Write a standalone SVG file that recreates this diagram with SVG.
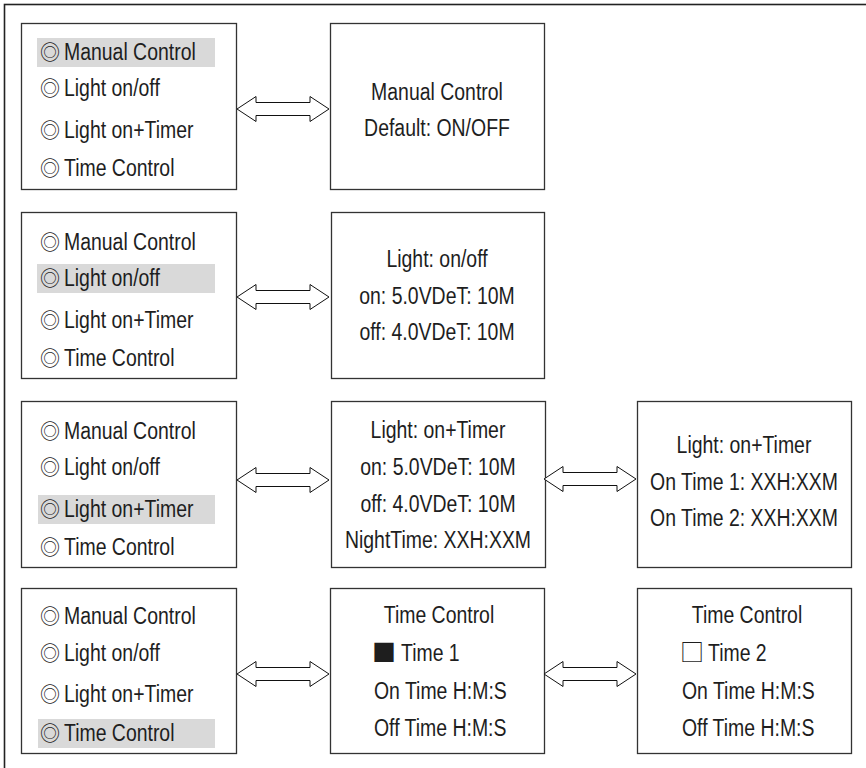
<svg xmlns="http://www.w3.org/2000/svg" width="866" height="768" viewBox="0 0 866 768">
<style>
.box{fill:#fff;stroke:#333;stroke-width:1.3}
.frame{fill:none;stroke:#222;stroke-width:1.6}
.hl{fill:#d9d9d9}
.t{font-family:"Liberation Sans",Arial,sans-serif;font-size:24px;fill:#1e1e1e}
.c{text-anchor:middle}
.sym{font-family:"Noto Sans CJK SC","DejaVu Sans",sans-serif;font-size:20px;fill:#1e1e1e}
.sq{font-family:"Noto Sans CJK SC","DejaVu Sans",sans-serif;font-size:24px;fill:#1e1e1e}
.arrow{fill:#fff;stroke:#111;stroke-width:1}
</style>
<defs>
<path id="dbl" d="M0,0 L19,-12.5 L19,-6.5 L73,-6.5 L73,-12.5 L92,0 L73,12.5 L73,6.5 L19,6.5 L19,12.5 Z"/>
</defs>
<rect class="frame" x="4.5" y="4.5" width="900" height="900"/>

<g id="menu1">
<rect class="box" x="21.5" y="23.5" width="215" height="166"/>
<rect class="hl" x="37" y="38" width="178" height="29"/>
<text class="sym" x="40" y="60">◎</text><text class="t" transform="translate(64,60) scale(0.81,1)">Manual Control</text>
<text class="sym" x="40" y="96">◎</text><text class="t" transform="translate(64,96) scale(0.81,1)">Light on/off</text>
<text class="sym" x="40" y="138">◎</text><text class="t" transform="translate(64,138) scale(0.81,1)">Light on+Timer</text>
<text class="sym" x="40" y="176">◎</text><text class="t" transform="translate(64,176) scale(0.81,1)">Time Control</text>
</g>
<g id="manual">
<rect class="box" x="330.5" y="23.5" width="214" height="166"/>
<text class="t c" transform="translate(437,100) scale(0.81,1)">Manual Control</text>
<text class="t c" transform="translate(437,136) scale(0.81,1)">Default: ON/OFF</text>
</g>

<g id="menu2">
<rect class="box" x="21.5" y="212.5" width="215" height="166"/>
<rect class="hl" x="37" y="264" width="178" height="29"/>
<text class="sym" x="40" y="250">◎</text><text class="t" transform="translate(64,250) scale(0.81,1)">Manual Control</text>
<text class="sym" x="40" y="286">◎</text><text class="t" transform="translate(64,286) scale(0.81,1)">Light on/off</text>
<text class="sym" x="40" y="328">◎</text><text class="t" transform="translate(64,328) scale(0.81,1)">Light on+Timer</text>
<text class="sym" x="40" y="366">◎</text><text class="t" transform="translate(64,366) scale(0.81,1)">Time Control</text>
</g>
<g id="lightonoff">
<rect class="box" x="331.5" y="212.5" width="213" height="166"/>
<text class="t c" transform="translate(437,267) scale(0.81,1)">Light: on/off</text>
<text class="t c" transform="translate(437,304) scale(0.81,1)">on: 5.0VDeT: 10M</text>
<text class="t c" transform="translate(437,340) scale(0.81,1)">off: 4.0VDeT: 10M</text>
</g>

<g id="menu3">
<rect class="box" x="21.5" y="401.5" width="215" height="166"/>
<rect class="hl" x="38" y="495" width="177" height="29"/>
<text class="sym" x="40" y="439">◎</text><text class="t" transform="translate(64,439) scale(0.81,1)">Manual Control</text>
<text class="sym" x="40" y="475">◎</text><text class="t" transform="translate(64,475) scale(0.81,1)">Light on/off</text>
<text class="sym" x="40" y="517">◎</text><text class="t" transform="translate(64,517) scale(0.81,1)">Light on+Timer</text>
<text class="sym" x="40" y="555">◎</text><text class="t" transform="translate(64,555) scale(0.81,1)">Time Control</text>
</g>
<g id="lighttimer">
<rect class="box" x="331.5" y="401.5" width="214" height="166"/>
<text class="t c" transform="translate(438,438) scale(0.81,1)">Light: on+Timer</text>
<text class="t c" transform="translate(438,475) scale(0.81,1)">on: 5.0VDeT: 10M</text>
<text class="t c" transform="translate(438,512) scale(0.81,1)">off: 4.0VDeT: 10M</text>
<text class="t c" transform="translate(438,548) scale(0.81,1)">NightTime: XXH:XXM</text>
</g>
<g id="ontimes">
<rect class="box" x="637.5" y="401.5" width="214" height="166"/>
<text class="t c" transform="translate(744,453) scale(0.81,1)">Light: on+Timer</text>
<text class="t c" transform="translate(744,490) scale(0.81,1)">On Time 1: XXH:XXM</text>
<text class="t c" transform="translate(744,526) scale(0.81,1)">On Time 2: XXH:XXM</text>
</g>

<g id="menu4">
<rect class="box" x="21.5" y="588.5" width="215" height="165"/>
<rect class="hl" x="38" y="719" width="177" height="29"/>
<text class="sym" x="40" y="624">◎</text><text class="t" transform="translate(64,624) scale(0.81,1)">Manual Control</text>
<text class="sym" x="40" y="661">◎</text><text class="t" transform="translate(64,661) scale(0.81,1)">Light on/off</text>
<text class="sym" x="40" y="702">◎</text><text class="t" transform="translate(64,702) scale(0.81,1)">Light on+Timer</text>
<text class="sym" x="40" y="741">◎</text><text class="t" transform="translate(64,741) scale(0.81,1)">Time Control</text>
</g>
<g id="time1">
<rect class="box" x="330.5" y="588.5" width="214" height="165"/>
<text class="t c" transform="translate(439,623) scale(0.81,1)">Time Control</text>
<text class="sq" x="372" y="661">■</text><text class="t" transform="translate(401,661) scale(0.81,1)">Time 1</text>
<text class="t" transform="translate(374,699) scale(0.81,1)">On Time H:M:S</text>
<text class="t" transform="translate(374,736) scale(0.81,1)">Off Time H:M:S</text>
</g>
<g id="time2">
<rect class="box" x="637.5" y="588.5" width="214" height="165"/>
<text class="t c" transform="translate(747,623) scale(0.81,1)">Time Control</text>
<text class="sq" x="680" y="661">□</text><text class="t" transform="translate(708,661) scale(0.81,1)">Time 2</text>
<text class="t" transform="translate(682,699) scale(0.81,1)">On Time H:M:S</text>
<text class="t" transform="translate(682,736) scale(0.81,1)">Off Time H:M:S</text>
</g>

<g id="connectors" class="arrow">
<use href="#dbl" x="237" y="109"/>
<use href="#dbl" x="237" y="297"/>
<use href="#dbl" x="237" y="480"/>
<use href="#dbl" x="544" y="479"/>
<use href="#dbl" x="237" y="674"/>
<use href="#dbl" x="544" y="674"/>
</g>
</svg>
